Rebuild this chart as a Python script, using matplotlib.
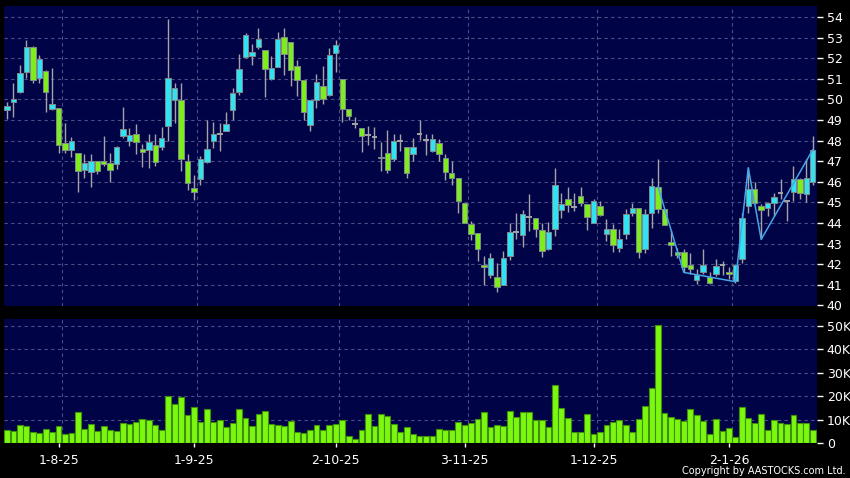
import matplotlib
matplotlib.use("Agg")
import matplotlib.pyplot as plt
import numpy as np
from matplotlib.ticker import FixedLocator, FuncFormatter

# daily OHLC, one entry per trading day (index 0 .. 125)
OPEN = [
    49.50, 49.88, 50.37, 51.33, 52.55, 51.04, 51.38, 49.54, 49.59, 47.89,
    47.55, 47.41, 46.57, 46.49, 47.00, 47.02, 46.89, 46.86, 48.20, 47.99,
    48.30, 47.60, 47.54, 47.80, 47.70, 48.73, 49.99, 49.96, 47.00, 45.71,
    46.12, 46.97, 48.00, 48.30, 48.48, 49.49, 50.37, 52.06, 52.11, 52.53,
    52.38, 51.00, 51.58, 53.03, 52.79, 51.61, 50.95, 48.75, 49.99, 50.64,
    50.20, 52.26, 51.00, 49.51, 48.78, 48.62, 48.27, 48.18, 47.13, 47.38,
    47.12, 47.99, 47.70, 47.36, 48.31, 48.05, 47.49, 47.89, 47.17, 46.44,
    46.20, 44.99, 43.97, 43.50, 41.98, 41.48, 41.40, 41.00, 42.40, 43.58,
    43.43, 44.31, 44.26, 43.64, 42.72, 43.69, 44.61, 45.18, 44.79, 45.31,
    44.94, 44.00, 44.82, 43.48, 43.69, 42.80, 43.45, 44.47, 44.73, 42.75,
    44.50, 45.75, 44.70, 43.08, 42.60, 42.57, 41.96, 41.23, 41.60, 41.37,
    41.52, 41.96, 41.63, 41.16, 42.24, 44.82, 45.66, 44.82, 44.74, 44.98,
    45.47, 45.07, 45.52, 46.12, 45.39, 46.00,
]
HIGH = [
    49.85, 50.80, 51.69, 52.87, 52.60, 52.13, 51.40, 51.54, 49.60, 48.86,
    48.15, 47.41, 47.33, 47.33, 47.00, 48.22, 47.38, 47.73, 49.62, 48.62,
    48.78, 47.85, 48.30, 48.33, 48.65, 53.92, 50.80, 50.77, 47.33, 46.31,
    47.25, 49.00, 48.90, 48.83, 49.40, 50.56, 52.22, 53.22, 52.70, 53.48,
    52.38, 52.10, 53.27, 53.48, 52.79, 51.93, 50.95, 49.96, 51.25, 51.61,
    52.50, 52.90, 51.00, 49.51, 49.15, 48.62, 48.70, 48.65, 47.93, 48.50,
    48.30, 48.30, 47.70, 48.14, 49.02, 48.33, 48.33, 48.09, 47.35, 47.00,
    46.20, 44.99, 44.10, 43.50, 42.40, 42.53, 42.06, 42.63, 43.98, 44.47,
    44.63, 45.39, 44.26, 44.00, 44.05, 46.68, 45.44, 45.76, 45.44, 45.76,
    44.94, 45.18, 45.07, 44.18, 43.94, 43.73, 44.66, 44.98, 44.73, 44.66,
    46.20, 47.10, 44.70, 43.65, 42.80, 42.73, 42.56, 41.75, 42.76, 41.63,
    42.24, 42.13, 41.84, 42.00, 44.50, 46.68, 45.99, 44.90, 45.02, 45.44,
    46.12, 45.10, 46.76, 46.20, 47.12, 48.22,
]
LOW = [
    49.03, 49.14, 50.30, 51.04, 50.80, 50.77, 49.38, 49.50, 47.40, 47.38,
    47.21, 45.50, 46.16, 45.74, 46.37, 46.76, 46.00, 46.60, 48.14, 47.73,
    47.34, 46.73, 46.68, 46.76, 47.54, 47.97, 48.83, 46.52, 45.60, 45.11,
    45.83, 46.90, 47.65, 47.49, 48.45, 49.02, 50.20, 52.00, 51.69, 52.42,
    50.10, 50.95, 51.55, 51.20, 50.67, 50.16, 49.02, 48.46, 49.57, 49.75,
    50.15, 51.32, 48.90, 49.02, 48.59, 47.44, 47.78, 47.57, 46.52, 46.44,
    47.00, 47.49, 46.20, 47.00, 48.05, 47.30, 47.45, 47.00, 46.08, 45.84,
    44.50, 44.00, 43.18, 42.16, 41.00, 41.35, 40.66, 40.98, 42.21, 43.20,
    42.85, 43.61, 43.32, 42.37, 42.70, 43.37, 44.26, 44.55, 44.58, 44.82,
    43.66, 43.98, 44.35, 43.13, 42.60, 42.60, 43.20, 44.34, 42.32, 42.56,
    43.76, 44.50, 43.90, 42.40, 42.30, 41.60, 41.52, 41.03, 41.52, 41.03,
    41.44, 41.47, 41.27, 41.11, 42.06, 44.50, 44.90, 43.20, 44.34, 44.34,
    45.18, 44.10, 45.07, 45.15, 45.02, 45.83,
]
CLOSE = [
    49.67, 50.03, 51.29, 52.55, 50.95, 51.96, 50.37, 49.78, 47.76, 47.55,
    47.99, 46.54, 46.89, 47.00, 46.52, 46.88, 46.57, 47.67, 48.57, 48.25,
    47.94, 47.46, 47.94, 46.97, 48.14, 51.03, 50.56, 47.12, 45.95, 45.52,
    47.12, 47.60, 48.30, 48.30, 48.81, 50.32, 51.48, 53.10, 52.30, 52.93,
    51.48, 51.53, 52.93, 52.21, 51.42, 50.95, 49.38, 49.96, 50.83, 50.03,
    52.17, 52.64, 49.51, 49.19, 48.78, 48.23, 48.27, 48.18, 47.21, 46.57,
    47.97, 47.99, 46.44, 47.70, 48.31, 48.05, 48.09, 47.36, 46.49, 46.20,
    45.07, 44.00, 43.48, 42.72, 41.84, 42.29, 40.87, 42.30, 43.56, 43.58,
    44.45, 44.31, 43.69, 42.64, 43.58, 45.84, 44.94, 44.86, 44.79, 44.95,
    44.31, 45.07, 44.39, 43.69, 42.92, 43.24, 44.45, 44.73, 42.61, 44.45,
    45.80, 44.70, 43.92, 42.92, 42.45, 41.84, 41.75, 41.49, 41.96, 41.11,
    41.92, 41.96, 41.50, 41.96, 44.26, 45.66, 44.95, 44.61, 44.95, 45.28,
    45.47, 45.07, 46.15, 45.44, 46.20, 47.54,
]
# volume in thousands of shares
VOLUME_K = [
    5.7, 5.3, 7.5, 7.2, 4.8, 4.4, 6.1, 4.8, 7.2, 4.0,
    4.3, 13.2, 6.1, 8.0, 5.3, 7.4, 5.7, 5.0, 8.5, 8.2,
    9.0, 10.4, 9.9, 7.8, 5.7, 20.0, 16.8, 19.6, 11.9, 15.2,
    9.0, 14.5, 9.1, 9.8, 6.8, 8.7, 14.6, 10.7, 7.2, 12.4,
    13.6, 8.2, 7.5, 7.4, 9.2, 4.8, 4.1, 5.5, 7.8, 5.4,
    7.8, 8.1, 9.7, 2.8, 1.8, 5.5, 12.4, 7.2, 12.4, 11.4,
    8.0, 4.7, 6.8, 3.8, 3.1, 2.9, 3.1, 6.1, 5.7, 5.7,
    8.8, 7.7, 8.4, 10.1, 13.2, 7.0, 7.8, 7.4, 13.8, 11.2,
    13.2, 13.2, 9.8, 9.8, 6.8, 24.9, 14.8, 10.8, 4.8, 4.8,
    12.4, 3.8, 4.7, 7.8, 8.8, 9.7, 7.7, 4.5, 10.1, 15.9,
    23.7, 50.4, 12.9, 10.9, 10.4, 9.2, 14.5, 11.8, 9.5, 3.8,
    10.4, 5.3, 6.5, 2.4, 15.5, 10.7, 8.7, 12.4, 5.4, 9.9,
    8.7, 8.1, 11.9, 8.4, 8.4, 5.5,
]
# zigzag overlay: (day index, price)
ZIGZAG_IDX = [101, 105, 113, 115, 117, 125]
ZIGZAG_PRICE = [45.75, 41.60, 41.15, 46.68, 43.20, 47.55]

DATE_LABELS = ["1-8-25", "1-9-25", "2-10-25", "3-11-25", "1-12-25", "2-1-26"]
DATE_IDX = [8, 29, 51, 71, 91, 112]
PRICE_TICKS = list(range(40, 55))
VOLUME_TICKS_K = [0, 10, 20, 30, 40, 50]

BG = "#000000"
PANEL = "#010347"
GRID = "#4c4f86"
UP = "#2fe3f2"
DOWN = "#7ded1c"
EDGE = "#7f8a8a"
WICK = "#a4a4a4"
VOL = "#7cf810"
VOL_EDGE = "#3f8f08"
ZIG = "#44a6e8"

x = np.arange(len(OPEN))
o = np.array(OPEN)
h = np.array(HIGH)
l = np.array(LOW)
c = np.array(CLOSE)

fig = plt.figure(figsize=(8.5, 4.78), dpi=100, facecolor=BG)
ax = fig.add_axes([4 / 850, 172 / 478, 813 / 850, 300 / 478])
axv = fig.add_axes([4 / 850, 35 / 478, 813 / 850, 124 / 478])

for a in (ax, axv):
    a.set_facecolor(PANEL)
    a.set_xlim(-0.47, 125.66)
    for s in a.spines.values():
        s.set_visible(False)
    a.yaxis.tick_right()
    a.tick_params(axis="y", colors="white", labelsize=9, length=4, width=1, pad=3)
    for gx in DATE_IDX:
        a.axvline(gx + 0.5, color=GRID, lw=0.8, ls=(0, (3, 3)), zorder=0)

# price panel
ax.set_ylim(39.97, 54.53)
ax.yaxis.set_major_locator(FixedLocator(PRICE_TICKS))
for py in PRICE_TICKS[1:]:
    ax.axhline(py, color=GRID, lw=0.8, ls=(0, (3, 3)), zorder=0)
ax.set_xticks([])

ax.vlines(x, l, h, color=WICK, lw=1, zorder=2)
flat = np.abs(c - o) < 0.02
up = (c > o) & ~flat
down = (c < o) & ~flat
ax.bar(x[up], (c - o)[up], bottom=o[up], width=0.84, color=UP,
       edgecolor=EDGE, linewidth=0.7, zorder=3)
ax.bar(x[down], (o - c)[down], bottom=c[down], width=0.84, color=DOWN,
       edgecolor=EDGE, linewidth=0.7, zorder=3)
ax.hlines(o[flat], x[flat] - 0.45, x[flat] + 0.45, color=WICK, lw=1.4, zorder=3)
ax.plot(ZIGZAG_IDX, ZIGZAG_PRICE, color=ZIG, lw=1.1, zorder=4)

# volume panel
axv.set_ylim(0, 53)
axv.yaxis.set_major_locator(FixedLocator(VOLUME_TICKS_K))
axv.yaxis.set_major_formatter(FuncFormatter(lambda v, _: "0" if v == 0 else f"{int(v)}K"))
for vy in VOLUME_TICKS_K[1:]:
    axv.axhline(vy, color=GRID, lw=0.8, ls=(0, (3, 3)), zorder=0)
axv.bar(x, VOLUME_K, width=0.9, color=VOL, edgecolor=VOL_EDGE, linewidth=0.8, zorder=3)
axv.set_xticks(DATE_IDX)
axv.set_xticklabels(DATE_LABELS)
axv.tick_params(axis="x", colors="white", labelsize=9, length=3, width=1, pad=5)

fig.text(846 / 850, 1 - 471 / 478, "Copyright by AASTOCKS.com Ltd.", color="white",
         fontsize=7, ha="right", va="center")

fig.savefig("out.png", dpi=100, facecolor=BG)
